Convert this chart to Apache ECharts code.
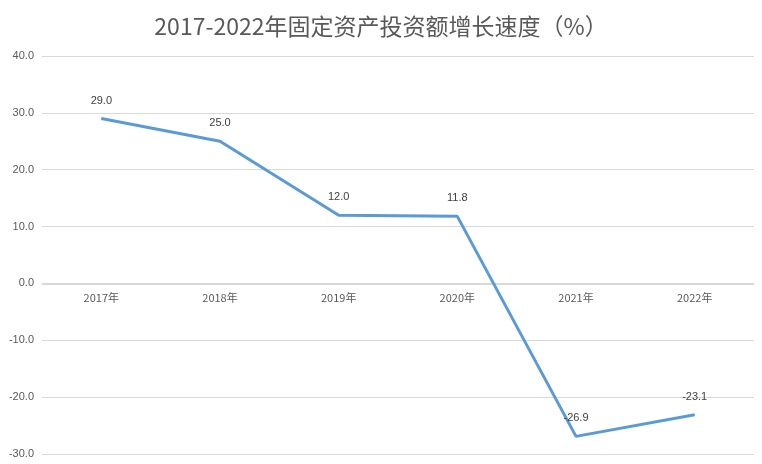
<!DOCTYPE html>
<html><head><meta charset="utf-8">
<script src="https://cdn.jsdelivr.net/npm/echarts@6/dist/echarts.min.js"></script>
<style>html,body{margin:0;padding:0;background:#fff}#c{width:762px;height:464px}</style>
</head><body><div id="c"></div>
<script>
var categories = ['2017年','2018年','2019年','2020年','2021年','2022年'];
var values = [29.0, 25.0, 12.0, 11.8, -26.9, -23.1];
var titleText = '2017-2022年固定资产投资额增长速度（%）';
var chart = echarts.init(document.getElementById('c'));
chart.setOption({
  animation: false,
  title: {text: titleText, left: 'center', top: 10,
    textStyle: {fontFamily: 'Noto Sans CJK SC', fontSize: 23, fontWeight: 'normal', color: '#595959'}},
  grid: {left: 42, right: 8, top: 56, bottom: 10, containLabel: false},
  xAxis: {type: 'category', data: categories, boundaryGap: true,
    offset: -170,
    axisLine: {onZero: false, lineStyle: {color: '#d9d9d9'}},
    axisTick: {show: false},
    axisLabel: {color: '#595959', fontSize: 11, fontFamily: 'Noto Sans CJK SC', margin: 8}},
  yAxis: {type: 'value', min: -30, max: 40, interval: 10,
    axisLine: {show: false}, axisTick: {show: false},
    axisLabel: {color: '#595959', fontSize: 11, margin: 8, formatter: function(v){return v.toFixed(1);}},
    splitLine: {lineStyle: {color: '#d9d9d9'}}},
  series: [{type: 'line', data: values, showSymbol: true, symbol: 'circle', symbolSize: 1,
    lineStyle: {color: '#5B9BD5', width: 3},
    itemStyle: {color: '#5B9BD5'},
    label: {show: true, position: 'top', distance: 12, color: '#404040', fontSize: 11,
      formatter: function(p){return p.value.toFixed(1);}}}]
});
</script></body></html>
